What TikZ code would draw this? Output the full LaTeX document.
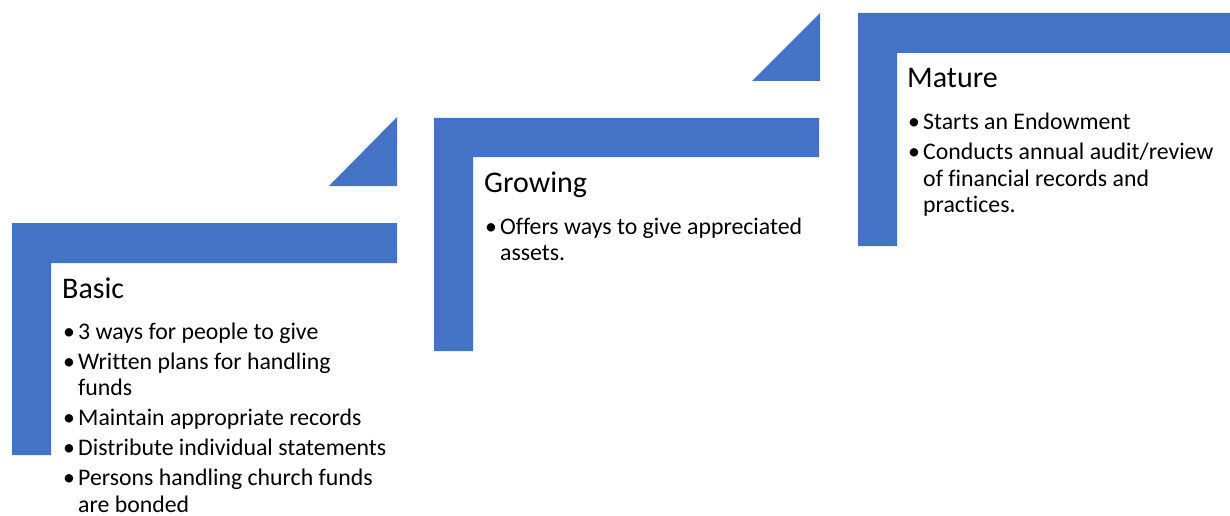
\documentclass[tikz,border=0pt]{standalone}
\usepackage{fontspec}
\setmainfont{Carlito}[Ligatures=NoCommon]
\definecolor{stageblue}{HTML}{4472C4}
\newcommand{\bul}{\makebox[14pt][l]{\hspace{-1pt}\textbullet}}
\tikzset{
  stagebar/.style={fill=stageblue, draw=none},
  stagetitle/.style={anchor=base west, inner sep=0pt, font=\fontsize{30}{36}\selectfont},
  stagelist/.style={anchor=base west, inner sep=0pt, font=\fontsize{23.8}{26.5}\selectfont},
}
\begin{document}
\begin{tikzpicture}[x=1pt, y=-1pt]
\useasboundingbox (0,0) rectangle (1230,516);

% corner shapes: (outer x, outer y) -- right end -- inner corner -- bottom
% Basic
\fill[stagebar] (12,223) -- (397,223) -- (397,263) -- (51,263) -- (51,455) -- (12,455) -- cycle;
\fill[stagebar] (397,117) -- (397,186) -- (329,186) -- cycle;
% Growing
\fill[stagebar] (434,118) -- (819,118) -- (819,157) -- (473,157) -- (473,351) -- (434,351) -- cycle;
\fill[stagebar] (820,13) -- (820,81) -- (752,81) -- cycle;
% Mature (runs past the right edge)
\fill[stagebar] (858,13) -- (1232,13) -- (1232,53) -- (897,53) -- (897,246) -- (858,246) -- cycle;

% Basic
\node[stagetitle] (basictitle) at (62,298) {Basic};
\node[stagelist] (basiclist) at (64,339) {\begin{tabular}[t]{@{}l@{}l@{}}
\bul & 3 ways for people to give\\[3.5pt]
\bul & Written plans for handling\\
     & funds\\[3.5pt]
\bul & Maintain appropriate records\\[3.5pt]
\bul & Distribute individual statements\\[3.5pt]
\bul & Persons handling church funds\\
     & are bonded
\end{tabular}};

% Growing
\node[stagetitle] (growtitle) at (484,192) {Growing};
\node[stagelist] (growlist) at (486,234) {\begin{tabular}[t]{@{}l@{}l@{}}
\bul & Offers ways to give appreciated\\
     & assets.
\end{tabular}};

% Mature
\node[stagetitle] (maturetitle) at (907,88) {Mature};
\node[stagelist] (maturelist) at (909,129.5) {\begin{tabular}[t]{@{}l@{}l@{}}
\bul & Starts an Endowment\\[3.5pt]
\bul & Conducts annual audit/review\\
     & of financial records and\\
     & practices.
\end{tabular}};
\end{tikzpicture}
\end{document}
